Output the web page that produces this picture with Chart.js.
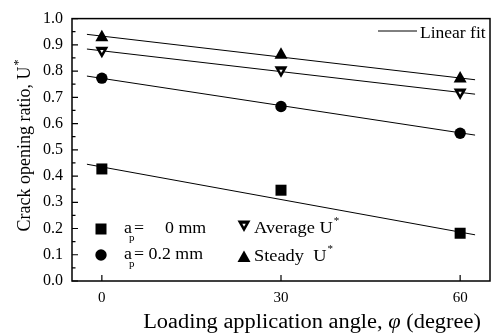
<!DOCTYPE html>
<html>
<head>
<meta charset="utf-8">
<script src="https://cdn.jsdelivr.net/npm/chart.js@4.4.1/dist/chart.umd.min.js"></script>
<style>
  body { margin: 0; background: #fff; }
</style>
</head>
<body>
<canvas id="crack" width="493" height="335"></canvas>
<script>
// loading angle (degree)
var angles = [0, 30, 60];
// crack opening ratio U*
var ap0 = [0.427, 0.346, 0.182];
var ap02 = [0.773, 0.665, 0.563];
var avgU = [0.872, 0.797, 0.713];
var steadyU = [0.933, 0.866, 0.776];
// linear fit lines, read at both ends
var fitX = [-2.5, 62.5];
var fitAp0 = [0.445, 0.176];
var fitAp02 = [0.781, 0.556];
var fitAvg = [0.884, 0.712];
var fitSteady = [0.940, 0.767];
var yTicks = [0, 0.1, 0.2, 0.3, 0.4, 0.5, 0.6, 0.7, 0.8, 0.9, 1.0];
var xTicks = [0, 30, 60];

var SERIF = '"Liberation Serif", "DejaVu Serif", serif';

function pts(xs, ys) {
    var out = [];
    for (var i = 0; i < xs.length; i++) out.push({x: xs[i], y: ys[i]});
    return out;
}

function marker(ctx, kind, x, y) {
    ctx.save();
    ctx.fillStyle = '#000';
    ctx.beginPath();
    if (kind == 'square') {
        ctx.rect(x - 5.5, y - 5.5, 11, 11);
        ctx.fill();
    } else if (kind == 'circle') {
        ctx.arc(x, y, 5.7, 0, Math.PI * 2);
        ctx.fill();
    } else if (kind == 'up') {
        ctx.moveTo(x, y - 6.5);
        ctx.lineTo(x + 6.5, y + 5);
        ctx.lineTo(x - 6.5, y + 5);
        ctx.closePath();
        ctx.fill();
    } else if (kind == 'down') {
        ctx.moveTo(x - 6.5, y - 5.5);
        ctx.lineTo(x + 6.5, y - 5.5);
        ctx.lineTo(x, y + 6);
        ctx.closePath();
        ctx.fill();
        // small white hole
        ctx.fillStyle = '#fff';
        ctx.beginPath();
        ctx.moveTo(x - 1.7, y - 2.2);
        ctx.lineTo(x + 1.7, y - 2.2);
        ctx.lineTo(x, y + 0.8);
        ctx.closePath();
        ctx.fill();
    }
    ctx.restore();
}

var markerPlugin = {
    id: 'markers',
    afterDatasetsDraw: function (chart) {
        var ctx = chart.ctx;
        chart.data.datasets.forEach(function (ds, i) {
            if (!ds.marker) return;
            chart.getDatasetMeta(i).data.forEach(function (p) {
                marker(ctx, ds.marker, p.x, p.y);
            });
        });
    }
};

// text with a bit of horizontal stretch, like the scanned original
function wideText(ctx, txt, x, y, sx) {
    ctx.save();
    ctx.translate(x, y);
    ctx.scale(sx, 1);
    ctx.fillText(txt, 0, 0);
    ctx.restore();
    return ctx.measureText(txt).width * sx;
}

var framePlugin = {
    id: 'frame',
    afterDraw: function (chart) {
        var ctx = chart.ctx;
        var a = chart.chartArea;
        var xs = chart.scales.x, ys = chart.scales.y;
        ctx.save();
        ctx.strokeStyle = '#000';
        ctx.lineWidth = 1.5;
        ctx.strokeRect(a.left, a.top, a.right - a.left, a.bottom - a.top);
        ctx.lineWidth = 1.2;
        ctx.beginPath();
        // y ticks, major + minor, inward
        for (var k = 0; k <= 20; k++) {
            var py = ys.getPixelForValue(k * 0.05);
            var len = (k % 2 == 0) ? 6 : 3.5;
            ctx.moveTo(a.left, py);
            ctx.lineTo(a.left + len, py);
        }
        xTicks.forEach(function (v) {
            var px = xs.getPixelForValue(v);
            ctx.moveTo(px, a.bottom);
            ctx.lineTo(px, a.bottom - 6);
        });
        ctx.stroke();

        // x axis title
        ctx.fillStyle = '#000';
        ctx.textBaseline = 'alphabetic';
        var sx = 1.12;
        ctx.font = '20px ' + SERIF;
        var t1 = 'Loading application angle, ';
        var t3 = ' (degree)';
        var w1 = ctx.measureText(t1).width * sx;
        var w3 = ctx.measureText(t3).width * sx;
        ctx.font = 'italic 20px ' + SERIF;
        var w2 = ctx.measureText('\u03c6').width * sx;
        var x0 = 312 - (w1 + w2 + w3) / 2;
        ctx.font = '20px ' + SERIF;
        wideText(ctx, t1, x0, 328, sx);
        wideText(ctx, t3, x0 + w1 + w2, 328, sx);
        ctx.font = 'italic 20px ' + SERIF;
        wideText(ctx, '\u03c6', x0 + w1, 328, sx);

        // y axis title
        ctx.save();
        ctx.translate(30, 145);
        ctx.rotate(-Math.PI / 2);
        ctx.font = '18px ' + SERIF;
        var yt = 'Crack opening ratio, U';
        var wy = ctx.measureText(yt).width;
        ctx.fillText(yt, -wy / 2 - 4, 0);
        ctx.font = '12px ' + SERIF;
        ctx.fillText('*', wy / 2 - 3, -8);
        ctx.restore();

        // legend: linear fit
        ctx.lineWidth = 1;
        ctx.beginPath();
        ctx.moveTo(378, 31);
        ctx.lineTo(417, 31);
        ctx.stroke();
        ctx.font = '17px ' + SERIF;
        wideText(ctx, 'Linear fit', 420, 38, 1.03);

        // legend: symbols
        marker(ctx, 'square', 101, 229);
        marker(ctx, 'circle', 101, 255);
        marker(ctx, 'down', 244, 226);
        marker(ctx, 'up', 244, 257);
        ctx.font = '17px ' + SERIF;
        wideText(ctx, 'a', 124, 233, 1.05);
        wideText(ctx, '=', 134, 233, 1.05);
        wideText(ctx, '0 mm', 165, 233, 1.05);
        wideText(ctx, 'a', 124, 259, 1.05);
        wideText(ctx, '= 0.2 mm', 134, 259, 1.05);
        ctx.font = '11px ' + SERIF;
        ctx.fillText('p', 129, 241);
        ctx.fillText('p', 129, 267);
        ctx.font = '17px ' + SERIF;
        var wa = wideText(ctx, 'Average U', 254, 233, 1.08);
        var ws = wideText(ctx, 'Steady  U', 254, 261, 1.08);
        ctx.font = '11px ' + SERIF;
        ctx.fillText('*', 254 + wa + 1, 224);
        ctx.fillText('*', 254 + ws + 1, 252);
        ctx.restore();
    }
};

function fitLine(ys) {
    return {
        data: pts(fitX, ys),
        showLine: true,
        borderColor: '#000',
        borderWidth: 1,
        pointRadius: 0,
        fill: false
    };
}

function markers(ys, kind) {
    return {
        data: pts(angles, ys),
        marker: kind,
        pointRadius: 0,
        showLine: false
    };
}

new Chart(document.getElementById('crack'), {
    type: 'scatter',
    data: {
        datasets: [
            fitLine(fitAp0), fitLine(fitAp02), fitLine(fitAvg), fitLine(fitSteady),
            markers(ap0, 'square'), markers(ap02, 'circle'),
            markers(avgU, 'down'), markers(steadyU, 'up')
        ]
    },
    options: {
        responsive: false,
        animation: false,
        layout: {padding: {top: 12, right: 3, left: 0, bottom: 0}},
        plugins: {legend: {display: false}, tooltip: {enabled: false}},
        scales: {
            x: {
                type: 'linear',
                min: -5,
                max: 65,
                afterFit: function (s) { s.height = 54; },
                afterBuildTicks: function (s) {
                    s.ticks = xTicks.map(function (v) { return {value: v}; });
                },
                grid: {display: false, drawTicks: false},
                border: {display: false},
                ticks: {
                    color: '#000',
                    padding: 8,
                    font: {family: SERIF, size: 15}
                }
            },
            y: {
                min: 0,
                max: 1,
                afterFit: function (s) { s.width = 72; },
                afterBuildTicks: function (s) {
                    s.ticks = yTicks.map(function (v) { return {value: v}; });
                },
                grid: {display: false, drawTicks: false},
                border: {display: false},
                ticks: {
                    color: '#000',
                    padding: 9,
                    font: {family: SERIF, size: 16},
                    callback: function (v) { return v.toFixed(1); }
                }
            }
        }
    },
    plugins: [markerPlugin, framePlugin]
});
</script>
</body>
</html>
